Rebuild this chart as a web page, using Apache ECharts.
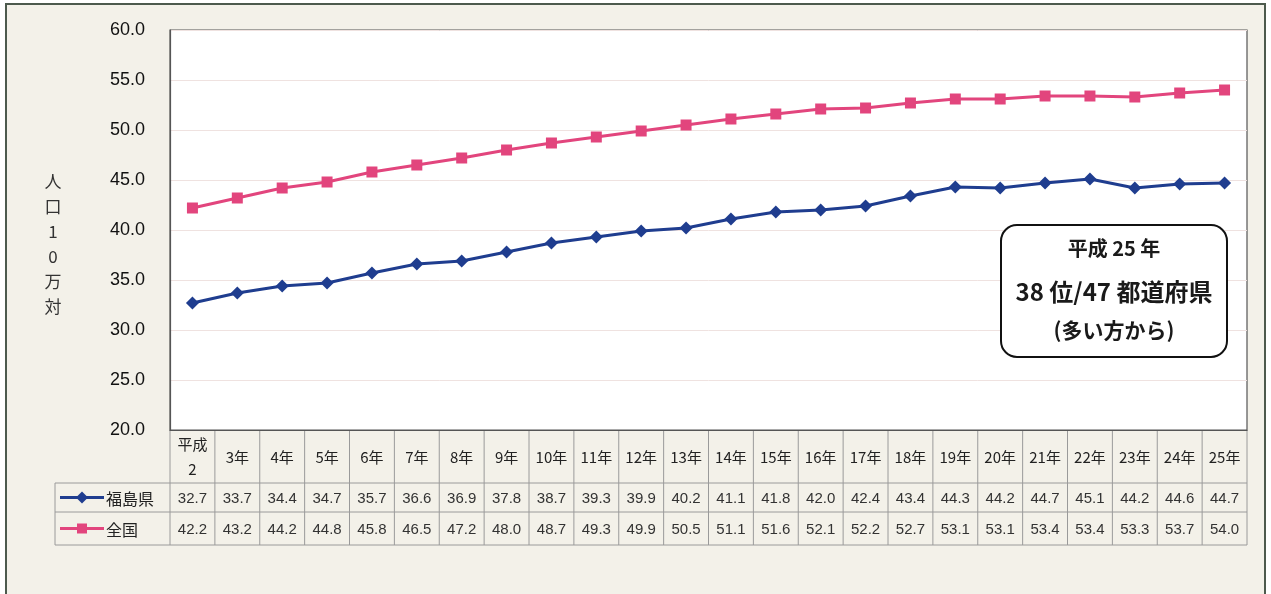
<!DOCTYPE html>
<html><head><meta charset="utf-8">
<script src="https://cdn.jsdelivr.net/npm/echarts@6/dist/echarts.min.js"></script>
<style>html,body{margin:0;padding:0;background:#fff}#c{width:1271px;height:594px}</style>
</head><body><div id="c"></div>
<script>
const categories = ['平成\n2','3年','4年','5年','6年','7年','8年','9年','10年','11年','12年','13年','14年','15年','16年','17年','18年','19年','20年','21年','22年','23年','24年','25年'];
const fukushima = [32.7,33.7,34.4,34.7,35.7,36.6,36.9,37.8,38.7,39.3,39.9,40.2,41.1,41.8,42.0,42.4,43.4,44.3,44.2,44.7,45.1,44.2,44.6,44.7];
const zenkoku = [42.2,43.2,44.2,44.8,45.8,46.5,47.2,48.0,48.7,49.3,49.9,50.5,51.1,51.6,52.1,52.2,52.7,53.1,53.1,53.4,53.4,53.3,53.7,54.0];
const seriesNames = ['福島県','全国'];
const yTicks = {min:20, max:60, interval:5};
const yAxisTitle = '人口10万対';
const noteLines = ['平成 25 年','38 位/47 都道府県','(多い方から)'];

const BLUE = '#1f3d8f', PINK = '#e2457d';
const chart = echarts.init(document.getElementById('c'), null, {renderer:'canvas'});
const G = {left:170, top:30, width:1077, height:400};
chart.setOption({
  animation:false,
  backgroundColor:'transparent',
  grid:{left:G.left, top:G.top, width:G.width, height:G.height, show:true, backgroundColor:'#fff', borderColor:'#555', borderWidth:1.2},
  xAxis:{type:'category', data:categories, boundaryGap:true,
    axisLine:{lineStyle:{color:'#555', width:1.2}}, axisTick:{show:false},
    axisLabel:{interval:0, margin:27, verticalAlign:'middle', lineHeight:25, fontSize:15, color:'#222', fontFamily:'"Noto Sans CJK JP", sans-serif'}},
  yAxis:{type:'value', min:yTicks.min, max:yTicks.max, interval:yTicks.interval,
    axisLine:{show:true, lineStyle:{color:'#555', width:1.2}}, axisTick:{show:false},
    splitLine:{lineStyle:{color:'#efe2e0', width:1}},
    axisLabel:{margin:25, fontSize:18, color:'#111', fontFamily:'"Liberation Sans", Arial, sans-serif', formatter:v=>v.toFixed(1)}},
  series:[
    {name:seriesNames[0], type:'line', data:fukushima, symbol:'diamond', symbolSize:13,
      lineStyle:{color:BLUE, width:3}, itemStyle:{color:BLUE}},
    {name:seriesNames[1], type:'line', data:zenkoku, symbol:'rect', symbolSize:11,
      lineStyle:{color:PINK, width:3}, itemStyle:{color:PINK}}
  ]
});

const g = [];
g.push({type:'rect', z:-10, shape:{x:6, y:4, width:1259, height:600}, style:{fill:'#f3f1e9', stroke:'#4d5a4d', lineWidth:2}});
const rows = [430, 483, 512, 545];
const step = chart.convertToPixel({xAxisIndex:0},1) - chart.convertToPixel({xAxisIndex:0},0);
const xb = [];
for (let i=0;i<=categories.length;i++) xb.push(chart.convertToPixel({xAxisIndex:0}, i) - step/2);
const lc = '#9a9a9a';
xb.forEach(x=>g.push({type:'line', shape:{x1:x,y1:rows[0],x2:x,y2:rows[3]}, style:{stroke:lc, lineWidth:1}}));
const legL = 55;
g.push({type:'line', shape:{x1:legL,y1:rows[1],x2:legL,y2:rows[3]}, style:{stroke:lc, lineWidth:1}});
[1,2,3].forEach(r=>g.push({type:'line', shape:{x1:legL,y1:rows[r],x2:xb[xb.length-1],y2:rows[r]}, style:{stroke:lc, lineWidth:1}}));
const dataRows = [fukushima, zenkoku];
dataRows.forEach((arr, r)=>{
  const cy = (rows[r+1]+rows[r+2])/2;
  arr.forEach((v,i)=>{
    g.push({type:'text', style:{x:chart.convertToPixel({xAxisIndex:0}, i), y:cy+1, text:v.toFixed(1), fontSize:15, fill:'#333', align:'center', verticalAlign:'middle', fontFamily:'"Liberation Sans Narrow","Liberation Sans", Arial, sans-serif'}});
  });
  const col = r===0?BLUE:PINK;
  g.push({type:'line', shape:{x1:60,y1:cy,x2:104,y2:cy}, style:{stroke:col, lineWidth:3}});
  if (r===0) g.push({type:'polygon', shape:{points:[[82,cy-6],[88,cy],[82,cy+6],[76,cy]]}, style:{fill:col}});
  else g.push({type:'rect', shape:{x:77,y:cy-5,width:10,height:10}, style:{fill:col}});
  g.push({type:'text', style:{x:106, y:cy+1, text:seriesNames[r], fontSize:16, fill:'#222', verticalAlign:'middle', fontFamily:'"Noto Sans CJK JP", sans-serif'}});
});
yAxisTitle.split('').forEach((ch,i)=>{
  g.push({type:'text', style:{x:53, y:182+i*25, text:ch, fontSize:17, fill:'#333', align:'center', verticalAlign:'middle', fontFamily:'"Noto Sans CJK JP", sans-serif'}});
});
g.push({type:'rect', shape:{x:1001, y:225, width:226, height:132, r:16}, style:{fill:'#fff', stroke:'#111', lineWidth:2}, z:10});
const noteY = [248, 292, 330], noteSize = [20, 24, 21];
noteLines.forEach((t,i)=>g.push({type:'text', z:11, style:{x:1114, y:noteY[i], text:t, fontSize:noteSize[i], fontWeight:'bold', fill:'#1a1a1a', align:'center', verticalAlign:'middle', fontFamily:'"Noto Sans CJK JP", sans-serif'}}));
chart.setOption({graphic:g});
</script></body></html>
